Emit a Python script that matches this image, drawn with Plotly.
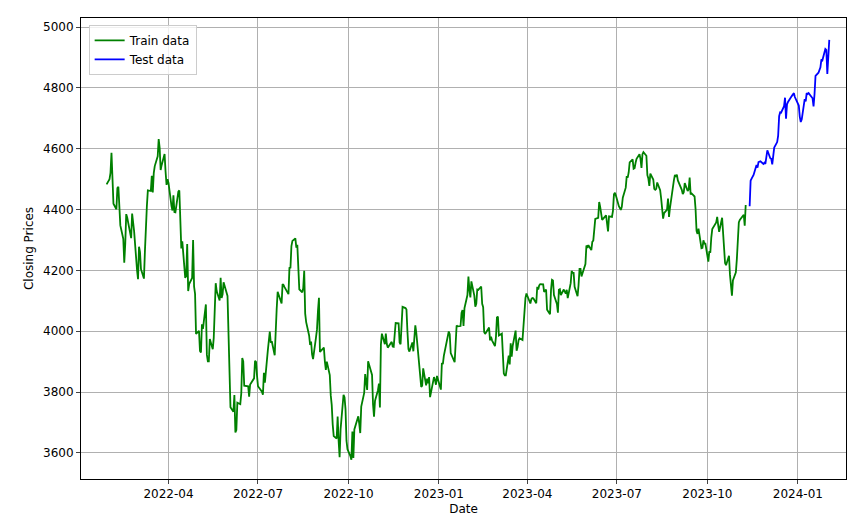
import pandas as pd
import plotly.graph_objects as go
from pandas.tseries.holiday import USFederalHolidayCalendar
from pandas.tseries.offsets import CustomBusinessDay

train_values = [4483,4500,4521,4587,4504,4419,4401,4471,4475,4380,4348,4304,4225,4288,4385,4374,4306,4387,4363,4329,4201,4171,4278,4260,4204,4173,4262,4357,4412,4463,4461,4511,4456,4520,4543,4575,4632,4603,4530,4546,4583,4525,4481,4500,4488,4412,4397,4447,4392,4391,4459,4463,4393,4272,4296,4175,4183,4287,4132,4155,4175,4300,4147,4123,3991,4001,3935,3930,4023,4008,4088,3923,3901,3901,3974,3941,3978,4057,4158,4132,4101,4176,4109,4121,4161,4116,4018,3901,3750,3735,3790,3667,3675,3765,3760,3796,3912,3901,3821,3819,3785,3825,3831,3845,3903,3899,3854,3819,3801,3791,3863,3831,3937,3960,3999,3962,3967,3921,4024,4072,4130,4119,4091,4155,4152,4145,4140,4122,4210,4207,4280,4297,4305,4275,4284,4228,4138,4128,4141,4199,4058,4030,3986,3955,3966,3924,3908,3980,4006,4067,4110,3932,3946,3901,3873,3900,3856,3789,3757,3693,3655,3647,3719,3640,3586,3678,3791,3783,3744,3640,3612,3589,3577,3670,3583,3677,3720,3695,3665,3752,3797,3859,3830,3807,3901,3872,3856,3759,3719,3771,3806,3828,3749,3956,3992,3957,3992,3958,3946,3965,3950,3949,4003,4027,4026,3963,3957,4080,4076,4071,3998,3941,3933,3963,3934,3990,4019,3995,3895,3852,3817,3821,3878,3822,3844,3829,3849,3783,3849,3839,3824,3853,3808,3895,3892,3919,3969,3983,3999,3990,3928,3898,3972,4019,4016,4017,4060,4070,4017,4076,4119,4180,4136,4111,4164,4117,4081,4090,4137,4136,4147,4090,4079,3997,3991,4012,3970,3982,3970,3951,3981,4045,4048,3986,3992,3918,3861,3855,3855,3920,3891,3960,3916,3951,4002,3936,3948,3970,3977,3971,4027,4051,4109,4124,4100,4091,4105,4109,4108,4092,4146,4137,4151,4155,4154,4129,4133,4137,4071,4056,4135,4169,4167,4119,4090,4061,4136,4138,4119,4137,4130,4124,4136,4109,4158,4198,4192,4192,4146,4115,4151,4205,4205,4180,4221,4282,4274,4283,4267,4294,4298,4338,4369,4373,4425,4409,4388,4366,4381,4348,4328,4378,4376,4396,4450,4455,4446,4411,4399,4409,4439,4472,4510,4505,4522,4555,4565,4534,4536,4554,4567,4582,4567,4537,4582,4589,4577,4513,4502,4478,4518,4499,4468,4465,4468,4489,4464,4437,4404,4370,4388,4400,4436,4376,4406,4433,4497,4514,4508,4515,4496,4465,4451,4457,4487,4461,4467,4505,4450,4453,4443,4402,4330,4320,4337,4273,4274,4299,4288,4288,4229,4263,4258,4308,4336,4358,4376,4349,4327,4373,4314,4278,4224,4217,4248,4186,4137,4117,4167,4194,4237,4318,4358,4366,4378,4383,4347,4415]
test_values = [4411,4495,4502,4508,4514,4547,4538,4556,4559,4550,4554,4550,4568,4595,4569,4567,4549,4585,4604,4622,4643,4707,4720,4719,4740,4768,4699,4746,4754,4774,4781,4783,4770,4742,4705,4688,4697,4763,4756,4783,4780,4783,4766,4739,4780,4840,4850,4864,4868,4894,4891,4928,4925,4846,4906,4958]
train_end = "2023-11-10"
test_start = "2023-11-13"
tick_dates = ["2022-04-01","2022-07-01","2022-10-01","2023-01-01","2023-04-01","2023-07-01","2023-10-01","2024-01-01"]
tick_labels = ["2022-04","2022-07","2022-10","2023-01","2023-04","2023-07","2023-10","2024-01"]

cbd = CustomBusinessDay(calendar=USFederalHolidayCalendar())
train_dates = pd.date_range(end=train_end, periods=len(train_values), freq=cbd)
test_dates = pd.date_range(start=test_start, periods=len(test_values), freq=cbd)

fig = go.Figure()
fig.add_trace(go.Scatter(x=train_dates, y=train_values, mode="lines", name="Train data", line=dict(color="green", width=1.8)))
fig.add_trace(go.Scatter(x=test_dates, y=test_values, mode="lines", name="Test data", line=dict(color="blue", width=1.8)))

ax = dict(showline=True, linecolor="black", linewidth=1, mirror=True, ticks="outside", ticklen=4,
          showgrid=True, gridcolor="#b0b0b0", gridwidth=1, zeroline=False, automargin=False,
          tickfont=dict(size=12))
fig.update_layout(
    width=859, height=525, margin=dict(l=73, r=21, t=10, b=54),
    plot_bgcolor="white", paper_bgcolor="white",
    font=dict(family="DejaVu Sans", size=12, color="black"),
    xaxis=dict(**ax, range=["2022-01-02", "2024-02-19"], tickvals=tick_dates, ticktext=tick_labels,
               title=dict(text="Date", standoff=4, font=dict(size=12))),
    yaxis=dict(**ax, range=[3514, 5030], tickvals=[3600,3800,4000,4200,4400,4600,4800,5000],
               title=dict(text="Closing Prices", standoff=6, font=dict(size=12))),
    legend=dict(x=0.01, y=0.985, xanchor="left", yanchor="top", bordercolor="#cccccc", borderwidth=1,
                bgcolor="rgba(255,255,255,0.8)", font=dict(size=12)),
)
fig.write_html("out.html")
